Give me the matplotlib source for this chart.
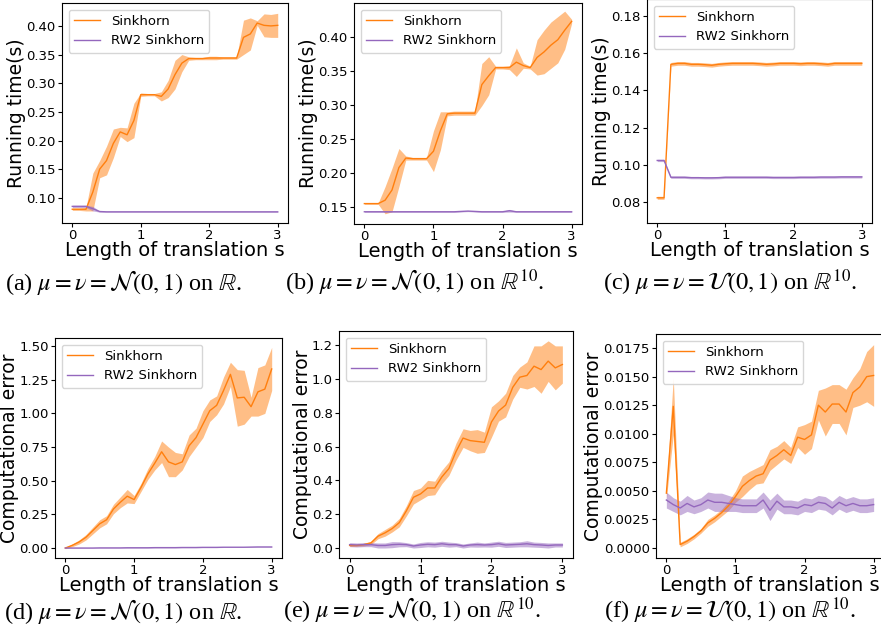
import numpy as np
import matplotlib
matplotlib.use("Agg")
import matplotlib.pyplot as plt

plt.rcParams['mathtext.fontset'] = 'stix'

s = np.round(np.arange(31) * 0.1, 1)

# (a) running time, N(0,1) on R
sk_a = [0.080, 0.080, 0.080, 0.110, 0.150, 0.165, 0.195, 0.215, 0.210, 0.235, 0.280,
        0.280, 0.280, 0.277, 0.290, 0.315, 0.335, 0.343, 0.343, 0.343, 0.344,
        0.344, 0.344, 0.344, 0.344, 0.380, 0.386, 0.405, 0.401, 0.400, 0.401]
sk_a_err = [0.002, 0.002, 0.003, 0.033, 0.015, 0.025, 0.025, 0.008, 0.012, 0.030, 0.003,
            0.002, 0.002, 0.008, 0.015, 0.025, 0.015, 0.003, 0.002, 0.002, 0.003,
            0.003, 0.002, 0.002, 0.002, 0.030, 0.028, 0.004, 0.020, 0.020, 0.021]
rw_a = [0.085, 0.085, 0.085, 0.081, 0.076] + [0.0755] * 26
rw_a_err = [0.002, 0.002, 0.002, 0.004, 0.001] + [0.0007] * 26

# (b) running time, N(0,1) on R^10
sk_b = [0.155, 0.155, 0.155, 0.160, 0.175, 0.208, 0.222, 0.221, 0.221, 0.221, 0.232,
        0.262, 0.287, 0.288, 0.288, 0.288, 0.288, 0.330, 0.343, 0.355, 0.355,
        0.355, 0.363, 0.358, 0.355, 0.370, 0.378, 0.388, 0.396, 0.410, 0.423]
sk_b_err = [0.001, 0.001, 0.001, 0.020, 0.032, 0.028, 0.003, 0.002, 0.002, 0.002, 0.030,
            0.028, 0.003, 0.003, 0.003, 0.003, 0.003, 0.031, 0.028, 0.002, 0.002,
            0.003, 0.021, 0.004, 0.002, 0.026, 0.032, 0.034, 0.034, 0.028, 0.003]
rw_b = [0.143] * 14 + [0.1435, 0.144, 0.1435] + [0.143] * 4 + [0.1445] + [0.143] * 9
rw_b_err = [0.0008] * 21 + [0.002] + [0.0008] * 9

# (c) running time, U(0,1) on R^10
sk_c = [0.0825, 0.0825, 0.1540, 0.1545, 0.1545, 0.1540, 0.1540, 0.1538, 0.1535, 0.1540, 0.1543,
        0.1545, 0.1545, 0.1545, 0.1545, 0.1543, 0.1540, 0.1542, 0.1545, 0.1545, 0.1545,
        0.1543, 0.1545, 0.1545, 0.1543, 0.1540, 0.1545, 0.1545, 0.1545, 0.1545, 0.1545]
sk_c_err = [0.0008] * 2 + [0.0010] * 29
rw_c = [0.1025, 0.1025, 0.0935, 0.0935, 0.0935, 0.0933, 0.0933, 0.0932, 0.0932, 0.0933, 0.0935,
        0.0935, 0.0935, 0.0935, 0.0935, 0.0935, 0.0935, 0.0934, 0.0934, 0.0934, 0.0934,
        0.0935, 0.0935, 0.0935, 0.0936, 0.0936, 0.0936, 0.0937, 0.0937, 0.0937, 0.0937]
rw_c_err = [0.0006] * 31

# (d) computational error, N(0,1) on R
sk_d = [0.00, 0.02, 0.045, 0.08, 0.13, 0.18, 0.21, 0.29, 0.34, 0.385, 0.36,
        0.45, 0.55, 0.63, 0.715, 0.64, 0.62, 0.64, 0.76, 0.82, 0.92,
        1.02, 1.06, 1.17, 1.29, 1.115, 1.12, 1.05, 1.16, 1.18, 1.33]
sk_d_err = [0.005, 0.01, 0.015, 0.02, 0.025, 0.03, 0.03, 0.035, 0.04, 0.05, 0.03,
            0.03, 0.04, 0.05, 0.08, 0.11, 0.09, 0.06, 0.08, 0.07, 0.10,
            0.08, 0.07, 0.10, 0.09, 0.21, 0.20, 0.07, 0.18, 0.18, 0.16]
rw_d = [0.000, 0.000, 0.000, 0.000, 0.000, 0.001, 0.001, 0.001, 0.001, 0.002, 0.002,
        0.002, 0.002, 0.003, 0.003, 0.003, 0.003, 0.004, 0.004, 0.004, 0.005,
        0.005, 0.005, 0.006, 0.006, 0.006, 0.006, 0.007, 0.008, 0.008, 0.008]
rw_d_err = [0.002] * 31

# (e) computational error, N(0,1) on R^10
sk_e = [0.015, 0.015, 0.020, 0.030, 0.070, 0.090, 0.115, 0.150, 0.220, 0.300, 0.320,
        0.355, 0.355, 0.420, 0.470, 0.570, 0.650, 0.635, 0.630, 0.625, 0.745,
        0.810, 0.845, 0.950, 1.010, 1.020, 1.075, 1.055, 1.105, 1.065, 1.085]
sk_e_err = [0.005, 0.005, 0.008, 0.010, 0.015, 0.020, 0.020, 0.025, 0.030, 0.040, 0.035,
            0.045, 0.040, 0.040, 0.040, 0.050, 0.055, 0.060, 0.070, 0.060, 0.090,
            0.060, 0.070, 0.070, 0.060, 0.080, 0.120, 0.140, 0.120, 0.130, 0.110]
rw_e = [0.020, 0.018, 0.020, 0.020, 0.015, 0.015, 0.020, 0.022, 0.020, 0.012, 0.018,
        0.022, 0.020, 0.025, 0.020, 0.020, 0.012, 0.018, 0.020, 0.018, 0.020,
        0.025, 0.018, 0.020, 0.022, 0.025, 0.020, 0.018, 0.015, 0.018, 0.018]
rw_e_err = [0.012, 0.012, 0.012, 0.012, 0.015, 0.015, 0.018, 0.015, 0.012, 0.012, 0.015,
            0.015, 0.015, 0.015, 0.015, 0.012, 0.012, 0.012, 0.015, 0.012, 0.015,
            0.015, 0.015, 0.015, 0.015, 0.018, 0.015, 0.015, 0.015, 0.012, 0.012]

# (f) computational error, U(0,1) on R^10
sk_f = [0.0048, 0.0124, 0.0003, 0.0006, 0.0010, 0.0015, 0.0022, 0.0026, 0.0031, 0.0037, 0.0045,
        0.0054, 0.0059, 0.0063, 0.0065, 0.0077, 0.0081, 0.0086, 0.0081, 0.0097, 0.0095,
        0.0099, 0.0125, 0.0119, 0.0126, 0.0126, 0.0119, 0.0136, 0.0141, 0.0150, 0.0151]
sk_f_err = [0.0005, 0.0025, 0.0002, 0.0002, 0.0002, 0.0002, 0.0003, 0.0003, 0.0003, 0.0004, 0.0005,
            0.0009, 0.0008, 0.0007, 0.0008, 0.0009, 0.0008, 0.0008, 0.0007, 0.0009, 0.0013,
            0.0012, 0.0013, 0.0021, 0.0017, 0.0017, 0.0020, 0.0013, 0.0016, 0.0022, 0.0027]
rw_f = [0.0042, 0.0038, 0.0035, 0.0039, 0.0036, 0.0038, 0.0042, 0.0040, 0.0040, 0.0039, 0.0038,
        0.0037, 0.0037, 0.0037, 0.0042, 0.0033, 0.0041, 0.0036, 0.0036, 0.0035, 0.0038,
        0.0037, 0.0040, 0.0039, 0.0035, 0.0040, 0.0037, 0.0039, 0.0037, 0.0037, 0.0038]
rw_f_err = [0.0007, 0.0006, 0.0006, 0.0007, 0.0006, 0.0006, 0.0007, 0.0008, 0.0008, 0.0007, 0.0006,
            0.0006, 0.0006, 0.0006, 0.0007, 0.0009, 0.0007, 0.0006, 0.0006, 0.0006, 0.0006,
            0.0006, 0.0006, 0.0006, 0.0006, 0.0006, 0.0006, 0.0006, 0.0006, 0.0006, 0.0006]

captions = [r"(a) $\mu = \nu = \mathcal{N}(0,1)$ on $\mathbb{R}$.",
            r"(b) $\mu = \nu = \mathcal{N}(0,1)$ on $\mathbb{R}^{10}$.",
            r"(c) $\mu = \nu = \mathcal{U}(0,1)$ on $\mathbb{R}^{10}$.",
            r"(d) $\mu = \nu = \mathcal{N}(0,1)$ on $\mathbb{R}$.",
            r"(e) $\mu = \nu = \mathcal{N}(0,1)$ on $\mathbb{R}^{10}$.",
            r"(f) $\mu = \nu = \mathcal{U}(0,1)$ on $\mathbb{R}^{10}$."]

W, H = 881, 638
fig = plt.figure(figsize=(W / 100, H / 100), dpi=100)

def box(x0, y0, x1, y1):
    return [x0 / W, 1 - y1 / H, (x1 - x0) / W, (y1 - y0) / H]

panels = [
    (box(62, 3, 288, 223), sk_a, sk_a_err, rw_a, rw_a_err, (0.056, 0.44),
     [0.10, 0.15, 0.20, 0.25, 0.30, 0.35, 0.40], "Running time(s)"),
    (box(354, 3, 582, 224), sk_b, sk_b_err, rw_b, rw_b_err, (0.125, 0.45),
     [0.15, 0.20, 0.25, 0.30, 0.35, 0.40], "Running time(s)"),
    (box(647, -1, 872, 223), sk_c, sk_c_err, rw_c, rw_c_err, (0.069, 0.189),
     [0.08, 0.10, 0.12, 0.14, 0.16, 0.18], "Running time(s)"),
    (box(55, 338, 282, 558), sk_d, sk_d_err, rw_d, rw_d_err, (-0.074, 1.56),
     [0.0, 0.25, 0.5, 0.75, 1.0, 1.25, 1.5], "Computational error"),
    (box(339, 331, 573, 558), sk_e, sk_e_err, rw_e, rw_e_err, (-0.059, 1.283),
     [0.0, 0.2, 0.4, 0.6, 0.8, 1.0, 1.2], "Computational error"),
    (box(656, 334, 884, 558), sk_f, sk_f_err, rw_f, rw_f_err, (-0.000875, 0.01873),
     [0.0, 0.0025, 0.005, 0.0075, 0.01, 0.0125, 0.015, 0.0175], "Computational error"),
]

orange = '#ff7f0e'
purple = '#9467bd'

for i, (pos, sk, ske, rw, rwe, ylim, yt, ylab) in enumerate(panels):
    ax = fig.add_axes(pos)
    sk = np.array(sk); ske = np.array(ske)
    rw = np.array(rw); rwe = np.array(rwe)
    ax.plot(s, sk, color=orange, lw=1.0, label='Sinkhorn')
    ax.fill_between(s, sk - ske, sk + ske, color=orange, alpha=0.5, lw=0)
    ax.plot(s, rw, color=purple, lw=1.0, label='RW2 Sinkhorn')
    ax.fill_between(s, rw - rwe, rw + rwe, color=purple, alpha=0.5, lw=0)
    ax.set_xlim(-0.15, 3.15)
    ax.set_ylim(*ylim)
    ax.set_xticks([0, 1, 2, 3])
    ax.set_yticks(yt)
    if i == 5:
        ax.set_yticklabels([f"{v:.4f}" for v in yt])
    elif i == 4:
        ax.set_yticklabels([f"{v:.1f}" for v in yt])
    else:
        ax.set_yticklabels([f"{v:.2f}" for v in yt])
    ax.tick_params(labelsize=9.5, length=3, pad=1.5)
    ax.set_ylabel(ylab, fontsize=13.5, labelpad=0)
    ax.set_xlabel("Length of translation s", fontsize=14, labelpad=-1)
    ax.legend(loc='upper left', fontsize=9.5)

for i, cap in enumerate(captions):
    cx = [124, 415, 730, 123, 412, 730][i]
    cy = 283 if i < 3 else 611
    fig.text(cx / W, 1 - cy / H, cap, ha='center', va='center', fontsize=17.5,
             family='Liberation Serif')

fig.savefig("out.png", dpi=100)
